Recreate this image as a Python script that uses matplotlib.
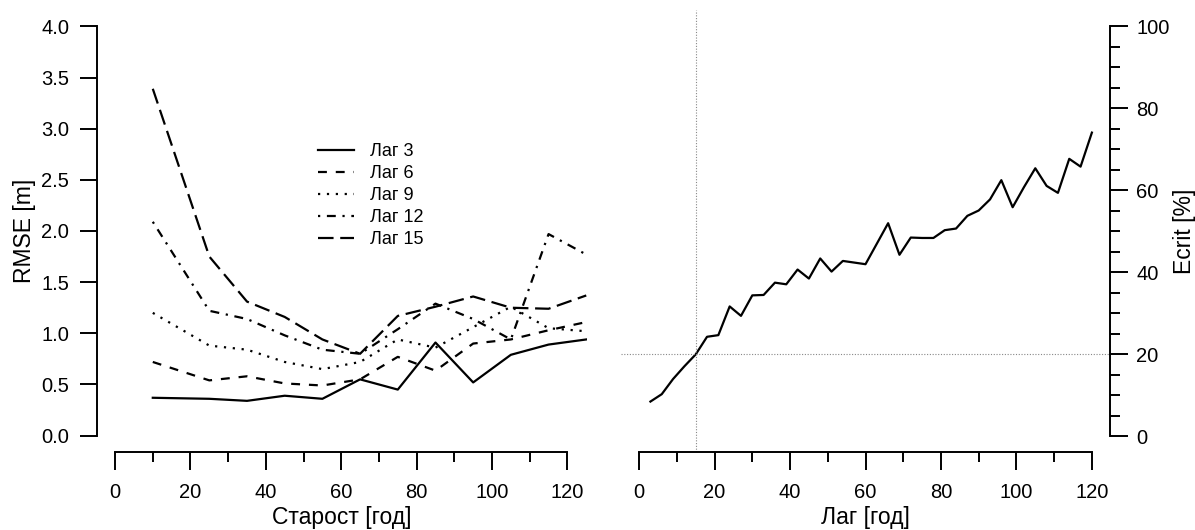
import matplotlib
matplotlib.use("Agg")
import matplotlib.pyplot as plt
import numpy as np

plt.rcParams['font.family'] = ['Liberation Sans', 'DejaVu Sans']

# left panel: RMSE by stand age for several lags
age = [10, 25, 35, 45, 55, 65, 75, 85, 95, 105, 115, 125]
lag3 = [0.37, 0.36, 0.34, 0.39, 0.36, 0.55, 0.45, 0.91, 0.52, 0.79, 0.89, 0.94]
lag6 = [0.72, 0.54, 0.58, 0.51, 0.49, 0.55, 0.77, 0.635, 0.90, 0.94, 1.03, 1.11]
lag9 = [1.20, 0.88, 0.84, 0.72, 0.65, 0.72, 0.94, 0.86, 1.06, 1.26, 1.05, 1.02]
lag12 = [2.09, 1.22, 1.14, 0.98, 0.84, 0.80, 1.04, 1.29, 1.14, 0.94, 1.97, 1.77]
lag15 = [3.39, 1.75, 1.31, 1.16, 0.94, 0.80, 1.17, 1.26, 1.36, 1.25, 1.24, 1.37]

series = [lag3, lag6, lag9, lag12, lag15]
names = ["Лаг 3", "Лаг 6", "Лаг 9", "Лаг 12", "Лаг 15"]
styles = ['-', (0, (4, 4)), (0, (1, 3)), (0, (1, 3, 4, 3)), (0, (7, 3))]

# right panel: Ecrit by lag
lag = list(range(3, 121, 3))
ecrit = [8.4, 10.2, 13.9, 17.0, 19.9, 24.2, 24.6, 31.6, 29.3, 34.3,
         34.4, 37.4, 37.0, 40.6, 38.4, 43.3, 40.1, 42.7, 42.3, 41.9,
         46.9, 51.9, 44.2, 48.4, 48.3, 48.3, 50.2, 50.6, 53.7, 55.0,
         57.7, 62.4, 55.8, 60.7, 65.3, 61.0, 59.3, 67.6, 65.7, 74.0]

W, H = 1195, 530
fig = plt.figure(figsize=(W / 100, H / 100), dpi=100)

lw = 1.6
tick_kw = dict(width=1.4, labelsize=14.5, color='black')
title_size = 16.5

# ---- left panel
ax1 = fig.add_axes([97 / W, 1 - 452 / H, 490 / W, 442 / H])
for ys, name, ls in zip(series, names, styles):
    ax1.plot(age, ys, color='black', lw=lw, linestyle=ls, label=name)
ax1.set_xlim(-4.8, 125.2)
ax1.set_ylim(-0.16, 4.16)
for s in ['top', 'right']:
    ax1.spines[s].set_visible(False)
ax1.spines['left'].set_bounds(0, 4)
ax1.spines['bottom'].set_bounds(0, 120)
for s in ['left', 'bottom']:
    ax1.spines[s].set_linewidth(1.4)
ax1.set_yticks(np.arange(0, 4.01, 0.5))
ax1.set_yticklabels([f"{v:.1f}" for v in np.arange(0, 4.01, 0.5)])
ax1.set_xticks(range(0, 121, 20))
ax1.set_xticks(range(10, 120, 20), minor=True)
ax1.tick_params(axis='y', length=12, pad=8, **tick_kw)
ax1.tick_params(axis='x', which='major', length=13, pad=9, **tick_kw)
ax1.tick_params(axis='x', which='minor', length=7, width=1.4)
ax1.set_ylabel("RMSE [m]", fontsize=title_size, labelpad=4)
ax1.set_xlabel("Старост [год]", fontsize=title_size, labelpad=3)
ax1.legend(loc='upper left', bbox_to_anchor=(318 / W, 1 - 143 / H),
           bbox_transform=fig.transFigure, frameon=False, fontsize=13,
           handlelength=2.0, handletextpad=0.9, labelspacing=0.28,
           borderpad=0, borderaxespad=0)

# ---- right panel
ax2 = fig.add_axes([621 / W, 1 - 452.4 / H, 489 / W, 442.8 / H])
ax2.plot(lag, ecrit, color='black', lw=lw)
ax2.axvline(15, color='#888888', lw=0.8, linestyle=(0, (1, 1.5)))
ax2.axhline(20, color='#888888', lw=0.8, linestyle=(0, (1, 1.5)))
ax2.set_xlim(-4.8, 124.8)
ax2.set_ylim(-4, 104)
for s in ['top', 'left']:
    ax2.spines[s].set_visible(False)
ax2.spines['right'].set_bounds(0, 100)
ax2.spines['bottom'].set_bounds(0, 120)
for s in ['right', 'bottom']:
    ax2.spines[s].set_linewidth(1.4)
ax2.yaxis.tick_right()
ax2.yaxis.set_label_position('right')
ax2.set_yticks(range(0, 101, 20))
ax2.set_yticks([v for v in range(5, 100, 5) if v % 20], minor=True)
ax2.set_xticks(range(0, 121, 20))
ax2.set_xticks(range(10, 120, 20), minor=True)
ax2.tick_params(axis='y', which='major', length=13, pad=6, **tick_kw)
ax2.tick_params(axis='y', which='minor', length=7, width=1.4)
ax2.tick_params(axis='x', which='major', length=13, pad=9, **tick_kw)
ax2.tick_params(axis='x', which='minor', length=7, width=1.4)
ax2.set_ylabel("Ecrit [%]", fontsize=title_size, labelpad=2)
ax2.set_xlabel("Лаг [год]", fontsize=title_size, labelpad=3)

fig.savefig("out.png", dpi=100)
